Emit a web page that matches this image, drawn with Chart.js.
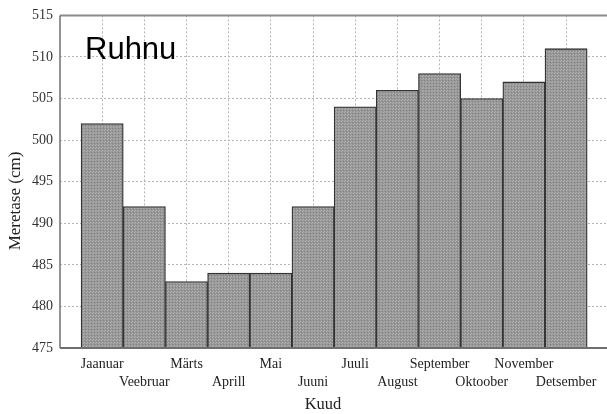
<!DOCTYPE html>
<html><head><meta charset="utf-8">
<script src="https://cdn.jsdelivr.net/npm/chart.js@4/dist/chart.umd.min.js"></script>
<style>html,body{margin:0;padding:0;background:#fff;overflow:hidden}#wrap{width:607px;height:414px;position:relative}</style>
</head><body><div id="wrap"><canvas id="c"></canvas></div>
<script>
const months = ['Jaanuar','Veebruar','Märts','Aprill','Mai','Juuni','Juuli','August','September','Oktoober','November','Detsember'];
const seaLevel = [502, 492, 483, 484, 484, 492, 504, 506, 508, 505, 507, 511];
const yMin = 475, yMax = 515, yStep = 5;
const stationName = 'Ruhnu';
const xTitle = 'Kuud';
const yTitle = 'Meretase (cm)';

const canvas = document.getElementById('c');
const ctx0 = canvas.getContext('2d');
function makePattern() {
  const p = document.createElement('canvas');
  p.width = 3; p.height = 3;
  const g = p.getContext('2d');
  g.fillStyle = '#979797'; g.fillRect(0, 0, 3, 3);
  g.fillStyle = '#b0b0b0'; g.fillRect(0, 0, 1, 1); g.fillRect(2, 1, 1, 1);
  g.fillStyle = '#838383'; g.fillRect(1, 2, 1, 1);
  return ctx0.createPattern(p, 'repeat');
}
const serif = 'Liberation Serif';

const framePlugin = {
  id: 'frame',
  afterDraw(chart) {
    const { ctx, chartArea: a } = chart;
    ctx.save();
    ctx.strokeStyle = '#8a8a8a';
    ctx.lineWidth = 2;
    ctx.beginPath(); ctx.moveTo(a.left, a.top); ctx.lineTo(a.right, a.top); ctx.stroke();
    ctx.strokeStyle = '#6f6f6f';
    ctx.lineWidth = 1.5;
    ctx.beginPath(); ctx.moveTo(a.left, a.top); ctx.lineTo(a.left, a.bottom); ctx.stroke();
    ctx.lineWidth = 2;
    ctx.beginPath(); ctx.moveTo(a.left, a.bottom); ctx.lineTo(a.right, a.bottom); ctx.stroke();
    ctx.fillStyle = '#000';
    ctx.font = '31px "Liberation Sans"';
    ctx.textBaseline = 'alphabetic';
    ctx.textAlign = 'left';
    ctx.fillText(stationName, 85, 59);
    ctx.fillStyle = '#222';
    ctx.font = '16.5px "' + serif + '"';
    ctx.textAlign = 'center';
    ctx.textBaseline = 'middle';
    ctx.fillText(xTitle, 323, 405);
    ctx.font = '17px "' + serif + '"';
    ctx.translate(16, 201);
    ctx.rotate(-Math.PI / 2);
    ctx.fillText(yTitle, 0, 0);
    ctx.restore();
  }
};

new Chart(canvas, {
  type: 'bar',
  data: {
    datasets: [{
      data: months.map((m, i) => ({ x: i + 1, y: seaLevel[i] })),
      backgroundColor: makePattern(),
      borderColor: '#333333',
      borderWidth: 1.3,
      barPercentage: 1,
      categoryPercentage: 1
    }]
  },
  options: {
    responsive: true,
    maintainAspectRatio: false,
    animation: false,
    layout: { padding: { top: 15, left: 0, right: 0, bottom: 0 } },
    plugins: { legend: { display: false }, tooltip: { enabled: false } },
    scales: {
      x: {
        type: 'linear',
        offset: false,
        min: 0,
        max: 12.97,
        afterBuildTicks: s => { s.ticks = months.map((_, i) => ({ value: i + 1 })); },
        afterFit: s => { s.height = 66; },
        ticks: {
          autoSkip: false, maxRotation: 0, minRotation: 0, padding: 8,
          color: '#222',
          font: { family: serif, size: 14, lineHeight: 1.25 },
          callback: v => {
            const i = Math.round(v) - 1;
            const m = months[i];
            if (!m) return '';
            return i % 2 === 0 ? [m, ''] : ['', m];
          }
        },
        grid: { offset: false, color: '#b5b5b5', lineWidth: 1, drawTicks: false },
        border: { display: false, dash: [2, 2] }
      },
      y: {
        min: yMin, max: yMax,
        afterFit: s => { s.width = 60; },
        ticks: {
          stepSize: yStep, padding: 7, color: '#333',
          font: { family: serif, size: 14 }
        },
        grid: { color: '#b5b5b5', lineWidth: 1, drawTicks: false },
        border: { display: false, dash: [2, 2] }
      }
    }
  },
  plugins: [framePlugin]
});
</script>
</body></html>
